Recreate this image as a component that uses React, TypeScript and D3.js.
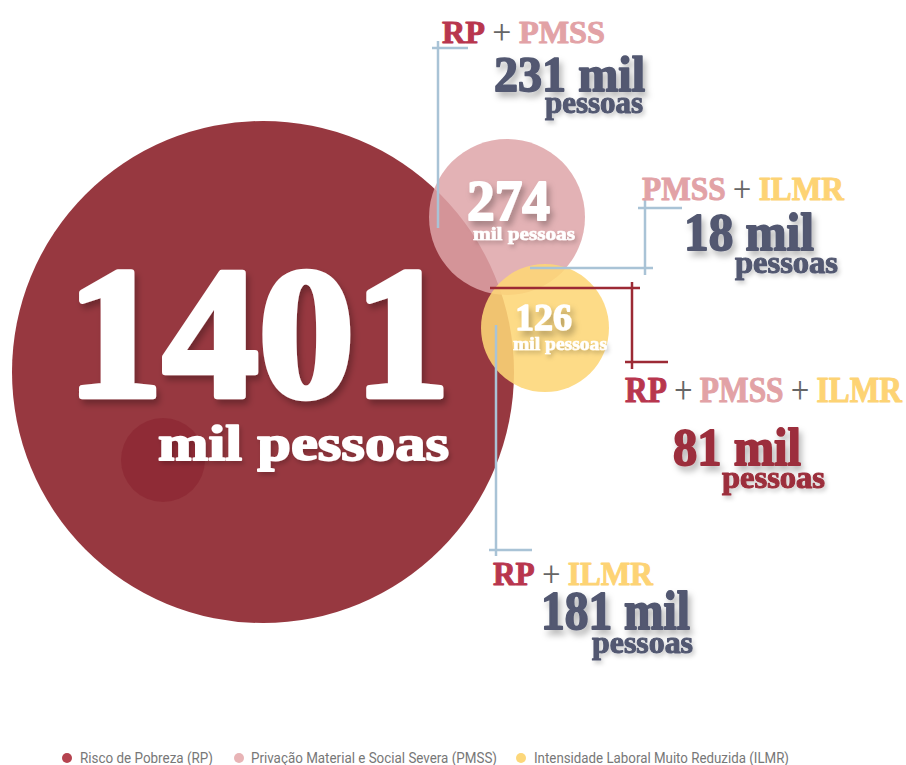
import React from "react";
import * as d3 from "d3";

// ---- data ----
const setKeys = ["RP", "PMSS", "ILMR"];
const setNames = [
  "Risco de Pobreza (RP)",
  "Privação Material e Social Severa (PMSS)",
  "Intensidade Laboral Muito Reduzida (ILMR)",
];
const setValues = [1401, 274, 126];
const comboSets = [["RP", "PMSS"], ["PMSS", "ILMR"], ["RP", "PMSS", "ILMR"], ["RP", "ILMR"]];
const comboValues = [231, 18, 81, 181];
const unitLabel = "mil pessoas";

// ---- styles / layout ----
const W = 906, H = 765;
const setColors: Record<string, string> = { RP: "#973840", PMSS: "#dea4a8", ILMR: "#fdd676" };
const labelColors: Record<string, string> = { RP: "#b8364e", PMSS: "#e2a2a6", ILMR: "#fdd374" };
const legendDot: Record<string, string> = { RP: "#b5434f", PMSS: "#e8b4b6", ILMR: "#fcd77a" };
const SERIF = "'Liberation Serif', 'DejaVu Serif', serif";
const SANS = "Roboto, 'Open Sans', sans-serif";

const rScale = d3.scaleLinear().domain([126, 274, 1401]).range([64, 78, 251]);
const circlePos = [
  { cx: 263, cy: 372, op: 1 },
  { cx: 507, cy: 217, op: 0.85 },
  { cx: 545, cy: 328, op: 0.88 },
];
const circleText = [
  { num: { x: 67, y: 396, w: 383, s: 186 }, unit: { x: 158, y: 460, w: 291, s: 50 } },
  { num: { x: 467, y: 220, w: 83, s: 58 }, unit: { x: 473, y: 240, w: 102, s: 19 } },
  { num: { x: 515, y: 330, w: 57, s: 37 }, unit: { x: 513, y: 350, w: 94, s: 19 } },
];
const comboLayout = [
  { lab: { x: 442, y: 43, w: 163, s: 32 }, num: { x: 494, y: 91, w: 151, s: 50 }, unit: { x: 545, y: 113, w: 98, s: 31 }, numColor: "#525871" },
  { lab: { x: 642, y: 200, w: 202, s: 33 }, num: { x: 684, y: 250, w: 130, s: 52 }, unit: { x: 735, y: 273, w: 103, s: 31 }, numColor: "#525871" },
  { lab: { x: 625, y: 402, w: 277, s: 35 }, num: { x: 673, y: 465, w: 128, s: 52 }, unit: { x: 722, y: 488, w: 103, s: 31 }, numColor: "#9c2f3c" },
  { lab: { x: 493, y: 585, w: 160, s: 33 }, num: { x: 541, y: 629, w: 149, s: 54 }, unit: { x: 592, y: 653, w: 101, s: 31 }, numColor: "#525871" },
];
const BLUE = "#a9c3d6";
const RED = "#9c2a35";
const leaders = [
  { c: BLUE, pts: [[432, 48, 468, 48], [438, 41, 438, 228]] },
  { c: BLUE, pts: [[638, 208, 682, 208], [645, 200, 645, 275], [530, 268, 653, 268]] },
  { c: RED, pts: [[490, 288, 640, 288], [632, 282, 632, 369], [625, 362, 668, 362]] },
  { c: BLUE, pts: [[496, 325, 496, 556], [489, 550, 532, 550]] },
];
const legendPos = [
  { dx: 67, tx: 80, tw: 133 },
  { dx: 239, tx: 251, tw: 246 },
  { dx: 521, tx: 534, tw: 255 },
];

function T({ x, y, w, s, fill, children, filter }: any) {
  return (
    <text x={x} y={y} textLength={w} lengthAdjust="spacingAndGlyphs" fontFamily={SERIF}
      fontWeight="bold" fontSize={s} fill={fill} stroke={fill} strokeWidth={s * 0.035}
      strokeLinejoin="round" filter={filter}>
      {children}
    </text>
  );
}

export default function App() {
  return (
    <svg width={W} height={H} style={{ position: "absolute", left: 0, top: 0 }}>
      <defs>
        <filter id="sh" x="-20%" y="-20%" width="140%" height="160%">
          <feDropShadow dx="3" dy="5" stdDeviation="3" floodColor="#000" floodOpacity="0.28" />
        </filter>
        <filter id="shs" x="-20%" y="-20%" width="140%" height="160%">
          <feDropShadow dx="2" dy="3" stdDeviation="2" floodColor="#000" floodOpacity="0.2" />
        </filter>
      </defs>
      <rect width={W} height={H} fill="#fff" />
      {setKeys.map((k, i) => (
        <circle key={k} cx={circlePos[i].cx} cy={circlePos[i].cy} r={rScale(setValues[i])}
          fill={setColors[k]} fillOpacity={circlePos[i].op} />
      ))}
      <circle cx={163} cy={460} r={42} fill="#8c2632" fillOpacity={0.7} />
      {leaders.map((l, i) => (
        <g key={i} stroke={l.c} strokeWidth={2.5}>
          {l.pts.map((p, j) => <line key={j} x1={p[0]} y1={p[1]} x2={p[2]} y2={p[3]} />)}
        </g>
      ))}
      {setKeys.map((k, i) => (
        <g key={k}>
          <T {...circleText[i].num} fill="#fff" filter="url(#sh)">{d3.format("")(setValues[i])}</T>
          <T {...circleText[i].unit} fill="#fff" filter="url(#shs)">{unitLabel}</T>
        </g>
      ))}
      {comboSets.map((sets, i) => {
        const L = comboLayout[i];
        return (
          <g key={i}>
            <text x={L.lab.x} y={L.lab.y} textLength={L.lab.w} lengthAdjust="spacingAndGlyphs"
              fontFamily={SERIF} fontWeight="bold" fontSize={L.lab.s} strokeLinejoin="round">
              {sets.map((s, j) => (
                <React.Fragment key={s}>
                  {j > 0 && <tspan fontFamily={SANS} fontWeight="300" fill="#666">{" + "}</tspan>}
                  <tspan fill={labelColors[s]} stroke={labelColors[s]} strokeWidth={L.lab.s * 0.03}>{s}</tspan>
                </React.Fragment>
              ))}
            </text>
            <T {...L.num} fill={L.numColor} filter="url(#sh)">{`${comboValues[i]} mil`}</T>
            <T {...L.unit} fill={L.numColor} filter="url(#shs)">pessoas</T>
          </g>
        );
      })}
      {setKeys.map((k, i) => (
        <g key={k}>
          <circle cx={legendPos[i].dx} cy={758} r={5} fill={legendDot[k]} />
          <text x={legendPos[i].tx} y={763} textLength={legendPos[i].tw} lengthAdjust="spacingAndGlyphs"
            fontFamily={SANS} fontSize={14} fill="#777">{setNames[i]}</text>
        </g>
      ))}
    </svg>
  );
}
